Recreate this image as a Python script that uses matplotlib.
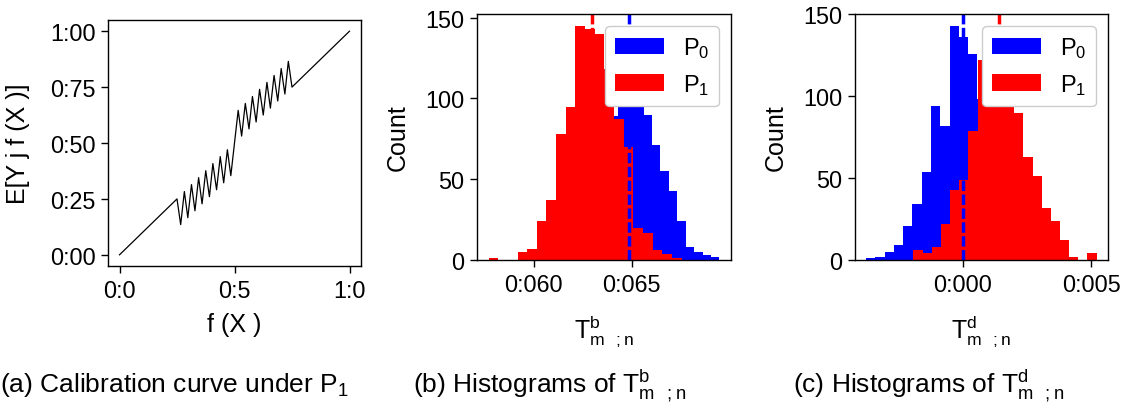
import numpy as np
import matplotlib
matplotlib.use("Agg")
import matplotlib.pyplot as plt

plt.rcParams["font.family"] = ["Liberation Sans", "DejaVu Sans"]
plt.rcParams["mathtext.fontset"] = "custom"
plt.rcParams["mathtext.rm"] = "Liberation Sans"

# ---------- (a) calibration curve: vertices ----------
calib_x = [0.0, 0.25,
           0.266, 0.282, 0.297, 0.313, 0.328, 0.344, 0.359, 0.375,
           0.391, 0.406, 0.422, 0.438, 0.453, 0.469, 0.484, 0.5,
           0.516, 0.531, 0.547, 0.563, 0.578, 0.594, 0.609, 0.625,
           0.641, 0.656, 0.672, 0.688, 0.703, 0.719, 0.734, 0.75,
           1.0]
calib_y = [0.0, 0.25,
           0.135, 0.283, 0.166, 0.314, 0.197, 0.345, 0.228, 0.376,
           0.260, 0.408, 0.291, 0.439, 0.322, 0.470, 0.354, 0.5,
           0.646, 0.531, 0.677, 0.563, 0.708, 0.594, 0.740, 0.625,
           0.771, 0.656, 0.802, 0.688, 0.833, 0.719, 0.865, 0.75,
           1.0]
a_xticks = [0.0, 0.5, 1.0]
a_xticklabels = ["0:0", "0:5", "1:0"]
a_yticks = [0.0, 0.25, 0.5, 0.75, 1.0]
a_yticklabels = ["0:00", "0:25", "0:50", "0:75", "1:00"]

# ---------- (b) histograms of T^b ----------
b_p0_start, b_p0_width = 0.060458, 0.000429
b_p0_counts = [2, 3, 5, 8, 24, 43, 55, 71, 89, 125, 135, 120,
               90, 71, 55, 43, 24, 8, 5, 3, 2]
b_p1_start, b_p1_width = 0.05771, 0.0004915
b_p1_counts = [1, 0, 0, 5, 7, 24, 37, 78, 95, 145, 143, 140,
               118, 87, 70, 20, 17, 6, 4, 1]
b_mean_p0, b_mean_p1 = 0.06488, 0.06297
b_xticks = [0.060, 0.065]
b_xticklabels = ["0:060", "0:065"]

# ---------- (c) histograms of T^d ----------
c_p0_start, c_p0_width = -0.003766, 0.000361
c_p0_counts = [1, 2, 5, 9, 21, 34, 54, 94, 82, 143, 136, 126,
               98, 80, 55, 35, 18, 8, 3]
c_p1_start, c_p1_width = -0.001922, 0.000357
c_p1_counts = [6, 4, 8, 22, 43, 49, 79, 122, 135, 130, 96, 90,
               63, 51, 32, 24, 12, 2, 0, 4]
c_mean_p0, c_mean_p1 = 0.0, 0.00143
c_xticks = [0.0, 0.005]
c_xticklabels = ["0:000", "0:005"]

count_ticks = [0, 50, 100, 150]
count_ticklabels = ["0", "50", "100", "150"]

TICK_FS = 16.8
LABEL_FS = 18
LEG_FS = 17
CAP_FS = 19
W, H = 1130, 410


def px_axes(fig, left, top, right, bottom):
    return fig.add_axes([left / W, 1 - bottom / H, (right - left) / W, (bottom - top) / H])


def style(ax):
    for s in ax.spines.values():
        s.set_linewidth(1.0)
    ax.tick_params(direction="out", length=5, width=1.0, labelsize=TICK_FS, pad=4)


def hist_panel(ax, p0_start, p0_w, p0_counts, p1_start, p1_w, p1_counts,
               m0, m1, xlim, xticks, xticklabels, xlabel):
    e0 = p0_start + p0_w * np.arange(len(p0_counts) + 1)
    e1 = p1_start + p1_w * np.arange(len(p1_counts) + 1)
    ax.hist(e0[:-1], bins=e0, weights=p0_counts, color="blue", label=r"$\mathregular{P_0}$")
    ax.hist(e1[:-1], bins=e1, weights=p1_counts, color="red", label=r"$\mathregular{P_1}$")
    ax.axvline(m0, color="blue", lw=2.5, dashes=(3, 1))
    ax.axvline(m1, color="red", lw=2.5, dashes=(3, 1))
    ax.set_xlim(*xlim)
    ax.set_ylim(0, max(max(p0_counts), max(p1_counts)) * 1.05)
    ax.set_xticks(xticks, xticklabels)
    ax.set_yticks(count_ticks, count_ticklabels)
    ax.set_xlabel(xlabel, fontsize=LABEL_FS)
    ax.set_ylabel("Count", fontsize=LABEL_FS)
    ax.xaxis.set_label_coords(0.5, -0.215)
    ax.yaxis.set_label_coords(-0.265, 0.5)
    leg = ax.legend(loc="upper right", fontsize=LEG_FS, framealpha=1.0,
                    handlelength=2.1, handleheight=0.7, borderaxespad=0.5)
    leg.get_frame().set_edgecolor("#cccccc")
    style(ax)


fig = plt.figure(figsize=(W / 100, H / 100), dpi=100)

# (a)
ax = px_axes(fig, 108, 21, 361, 267)
ax.plot(calib_x, calib_y, color="black", lw=0.9)
ax.set_xlim(-0.05, 1.05)
ax.set_ylim(-0.05, 1.05)
ax.set_xticks(a_xticks, a_xticklabels)
ax.set_yticks(a_yticks, a_yticklabels)
ax.set_xlabel("f (X )", fontsize=LABEL_FS)
ax.set_ylabel("E[Y j f (X )]", fontsize=LABEL_FS)
ax.xaxis.set_label_coords(0.5, -0.185)
ax.yaxis.set_label_coords(-0.31, 0.5)
style(ax)

# (b)
ax = px_axes(fig, 477, 15, 731, 261)
hist_panel(ax, b_p0_start, b_p0_width, b_p0_counts, b_p1_start, b_p1_width, b_p1_counts,
           b_mean_p0, b_mean_p1, (0.05712, 0.07006), b_xticks, b_xticklabels,
           r"$\mathregular{T^b_{m\ \ ;n}}$")

# (c)
ax = px_axes(fig, 855, 15, 1108, 261)
hist_panel(ax, c_p0_start, c_p0_width, c_p0_counts, c_p1_start, c_p1_width, c_p1_counts,
           c_mean_p0, c_mean_p1, (-0.0042, 0.00566), c_xticks, c_xticklabels,
           r"$\mathregular{T^d_{m\ \ ;n}}$")

# captions
cap_y = 17.7 / H
fig.text(0.5 / W, cap_y, r"(a) Calibration curve under $\mathregular{P_1}$", fontsize=CAP_FS, va="baseline")
fig.text(413 / W, cap_y, r"(b) Histograms of $\mathregular{T^b_{m\ \ ;n}}$", fontsize=CAP_FS, va="baseline")
fig.text(793 / W, cap_y, r"(c) Histograms of $\mathregular{T^d_{m\ \ ;n}}$", fontsize=CAP_FS, va="baseline")

fig.savefig("out.png", dpi=100)
